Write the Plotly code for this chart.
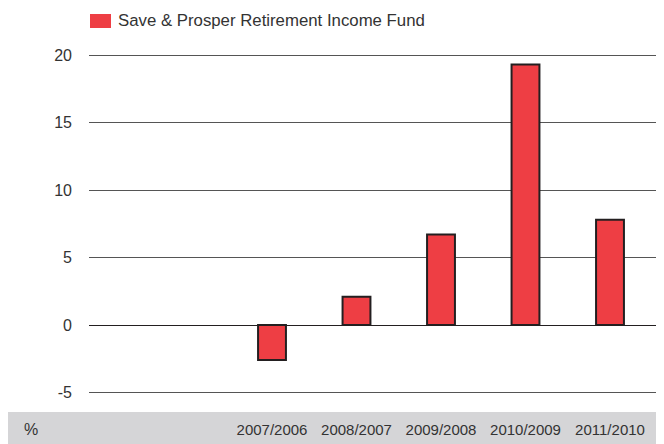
import plotly.graph_objects as go

# ---- data ----
series_name = "Save & Prosper Retirement Income Fund"
categories = ["2007/2006", "2008/2007", "2009/2008", "2010/2009", "2011/2010"]
values = [-2.6, 2.1, 6.7, 19.3, 7.8]
y_ticks = [-5, 0, 5, 10, 15, 20]
unit_label = "%"

BAR_RED = "#ee3e44"
TEXT = "#333333"
FONT = "Liberation Sans, Arial, Helvetica, sans-serif"

# the page body has an 8px margin, so the figure is drawn 8px in from the corner
OFF = 8
W, H = 664 - OFF, 444 - OFF
ML, MR, MT, MB = 89 - OFF, 2, 40 - OFF, 44
PW = W - ML - MR
PH = H - MT - MB


def px_x(px):
    """window pixel -> paper x"""
    return (px - OFF - ML) / PW


def px_y(py):
    """window pixel -> paper y"""
    return (H - MB - (py - OFF)) / PH


fig = go.Figure()
fig.add_trace(go.Bar(
    x=categories, y=values, name=series_name,
    width=0.33,
    marker=dict(color=BAR_RED, line=dict(color="#231f20", width=2)),
    showlegend=False,
))

shapes = [
    # grey band holding the category labels
    dict(type="rect", xref="paper", yref="paper", layer="below",
         x0=px_x(8), x1=px_x(662), y0=px_y(412), y1=px_y(444),
         fillcolor="#d5d5d7", line=dict(width=0)),
    # legend swatch
    dict(type="rect", xref="paper", yref="paper",
         x0=px_x(90), x1=px_x(111), y0=px_y(14), y1=px_y(28),
         fillcolor=BAR_RED, line=dict(width=0)),
]

annotations = [
    dict(text=series_name, xref="paper", yref="paper",
         x=px_x(116), y=px_y(21), xanchor="left", yanchor="middle",
         showarrow=False, font=dict(size=16.8, color=TEXT, family=FONT)),
    dict(text=unit_label, xref="paper", yref="paper",
         x=px_x(22), y=px_y(429), xanchor="left", yanchor="middle",
         showarrow=False, font=dict(size=16, color=TEXT, family=FONT)),
]

# category i centre at window pixel 272 + 84.5*i
c0 = 272 - OFF
x0 = (ML - c0) / 84.5
x1 = (W - MR - c0) / 84.5
# value 0 at window pixel 325, 13.5 px per unit
z0 = 325 - OFF
y_top = (z0 - MT) / 13.5
y_bot = (z0 - (H - MB)) / 13.5

fig.update_layout(
    width=W, height=H,
    margin=dict(l=ML, r=MR, t=MT, b=MB, pad=0),
    paper_bgcolor="white", plot_bgcolor="white",
    font=dict(family=FONT, color=TEXT, size=16),
    shapes=shapes, annotations=annotations,
)
fig.update_xaxes(
    type="category", range=[x0, x1],
    showgrid=False, zeroline=False, showline=False,
    ticks="outside", ticklen=16, tickcolor="rgba(0,0,0,0)",
    tickfont=dict(size=15, color=TEXT, family=FONT),
)
fig.update_yaxes(
    range=[y_bot, y_top],
    tickvals=y_ticks, ticktext=[str(v) for v in y_ticks],
    showgrid=True, gridcolor="#555555", gridwidth=1.2,
    zeroline=True, zerolinecolor="#231f20", zerolinewidth=1.2,
    showline=False, ticks="", ticklabelstandoff=16,
    tickfont=dict(size=16, color=TEXT, family=FONT),
)

fig.write_html("out.html")
